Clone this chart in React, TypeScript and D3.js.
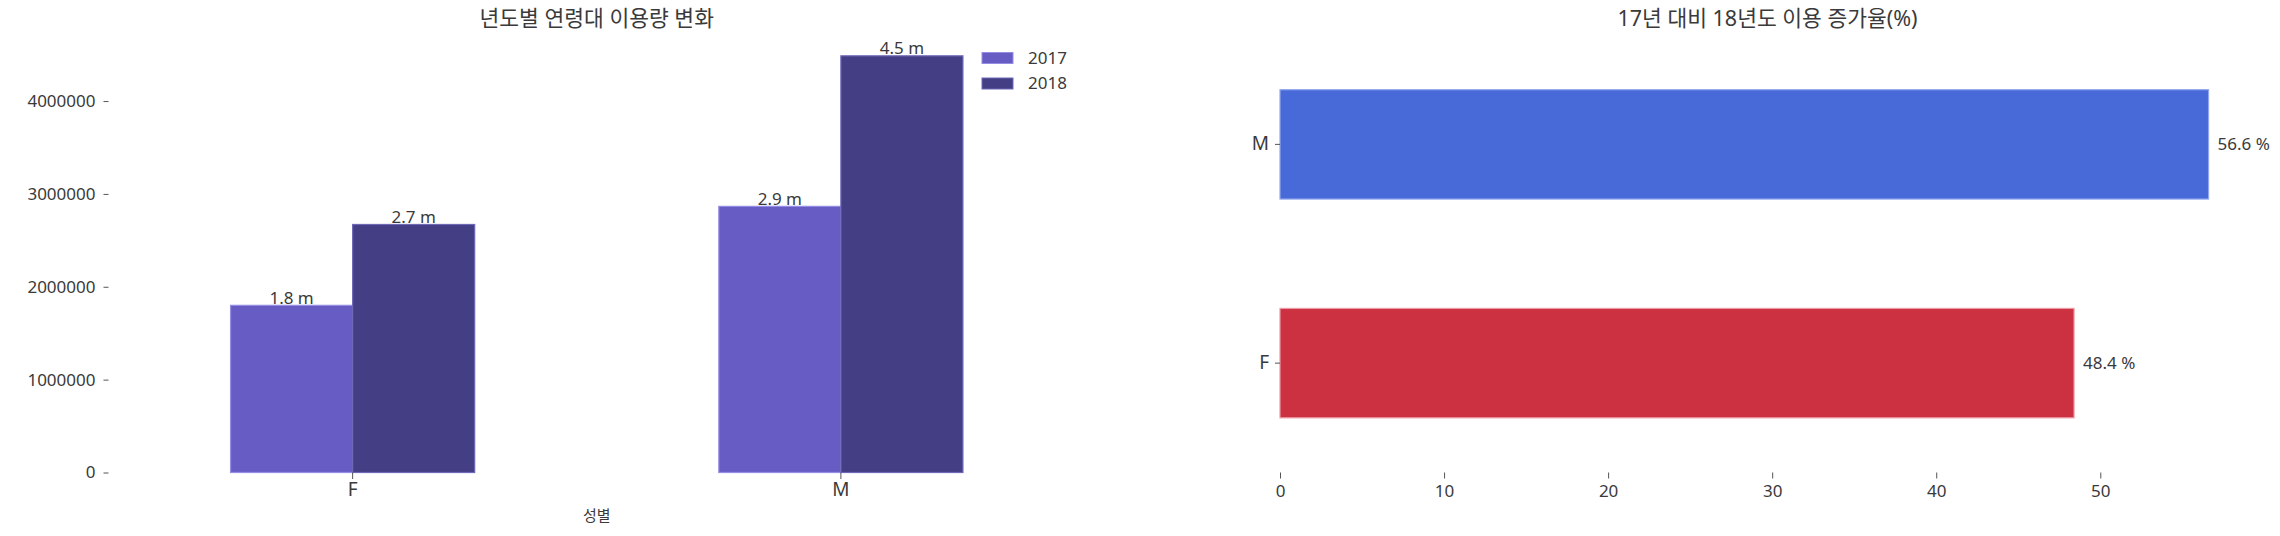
import React, { useEffect, useRef } from 'react';
import * as d3 from 'd3';

// left chart: yearly usage by gender
const genders = ['F', 'M'];
const years = ['2017', '2018'];
const usage2017 = [1800000, 2866000];
const usage2018 = [2671000, 4487000];
const usageTicks = [0, 1000000, 2000000, 3000000, 4000000];

// right chart: growth rate 17 -> 18 (%)
const growthCats = ['M', 'F'];
const growthValues = [56.6, 48.4];
const growthTicks = [0, 10, 20, 30, 40, 50];

const W = 2280;
const H = 536;
const FONT = '"Noto Sans", "Noto Sans CJK KR", sans-serif';
const TEXT = '#3a3a3a';

const yearFill: Record<string, string> = { '2017': '#675cc4', '2018': '#443e84' };
const yearEdge: Record<string, string> = { '2017': '#958ce4', '2018': '#6f68b8' };
const growthFill: Record<string, string> = { M: '#486ad8', F: '#cc3142' };
const growthEdge: Record<string, string> = { M: '#93a8ee', F: '#eb9aa3' };

export default function App() {
  const ref = useRef<SVGSVGElement>(null);

  useEffect(() => {
    const svg = d3.select(ref.current);
    svg.selectAll('*').remove();

    const top = 35;
    const bottom = 472.5;

    // ---------- left chart ----------
    const lx0 = 108.5;
    const lx1 = 1085;
    const rows = genders.map((g, i) => ({ g, '2017': usage2017[i], '2018': usage2018[i] }));
    const maxV = d3.max([...usage2017, ...usage2018]) as number;

    const x0 = d3.scaleBand().domain(genders).range([lx0, lx1]).paddingInner(0.5).paddingOuter(0.25);
    const x1 = d3.scaleBand().domain(years).range([0, x0.bandwidth()]);
    const y = d3.scaleLinear().domain([0, maxV * 1.05]).range([bottom, top]);

    const left = svg.append('g');

    const groups = left.selectAll('.grp')
      .data(rows)
      .enter()
      .append('g')
      .attr('transform', d => `translate(${x0(d.g)},0)`);

    groups.selectAll('rect')
      .data(d => years.map(yr => ({ yr, v: (d as any)[yr] as number })))
      .enter()
      .append('rect')
      .attr('x', d => x1(d.yr)!)
      .attr('y', d => y(d.v))
      .attr('width', x1.bandwidth())
      .attr('height', d => bottom - y(d.v))
      .attr('fill', d => yearFill[d.yr])
      .attr('stroke', d => yearEdge[d.yr])
      .attr('stroke-width', 1.2);

    groups.selectAll('text.lbl')
      .data(d => years.map(yr => ({ yr, v: (d as any)[yr] as number })))
      .enter()
      .append('text')
      .attr('class', 'lbl')
      .attr('x', d => x1(d.yr)! + x1.bandwidth() / 2)
      .attr('y', d => y(d.v) - 1.5)
      .attr('text-anchor', 'middle')
      .attr('font-size', 17)
      .attr('font-family', FONT)
      .attr('fill', TEXT)
      .text(d => `${(d.v / 1e6).toFixed(1)} m`);

    const yAxis = left.append('g')
      .attr('transform', `translate(${lx0},0)`)
      .call(d3.axisLeft(y).tickValues(usageTicks).tickFormat(d3.format('d')).tickSize(5).tickPadding(8));
    yAxis.select('.domain').remove();

    const xAxis = left.append('g')
      .attr('transform', `translate(0,${bottom})`)
      .call(d3.axisBottom(x0).tickSize(6.5).tickPadding(4));
    xAxis.select('.domain').remove();
    xAxis.selectAll('text').attr('font-size', 19);

    [yAxis, xAxis].forEach(a => {
      a.attr('font-family', FONT).selectAll('line').attr('stroke', '#555');
      a.selectAll('text').attr('fill', TEXT);
    });
    yAxis.attr('font-size', 17);

    left.append('text')
      .attr('x', (lx0 + lx1) / 2)
      .attr('y', 26)
      .attr('text-anchor', 'middle')
      .attr('font-size', 21.5)
      .attr('font-family', FONT)
      .attr('fill', TEXT)
      .text('년도별 연령대 이용량 변화');

    left.append('text')
      .attr('x', (lx0 + lx1) / 2)
      .attr('y', 521)
      .attr('text-anchor', 'middle')
      .attr('font-size', 15)
      .attr('font-family', FONT)
      .attr('fill', TEXT)
      .text('성별');

    const legend = left.append('g').attr('transform', 'translate(982,52.5)');
    years.forEach((yr, i) => {
      const row = legend.append('g').attr('transform', `translate(0,${i * 25.5})`);
      row.append('rect')
        .attr('width', 31).attr('height', 11)
        .attr('fill', yearFill[yr])
        .attr('stroke', yearEdge[yr]);
      row.append('text')
        .attr('x', 46).attr('y', 5.5)
        .attr('dy', '0.35em')
        .attr('font-size', 17)
        .attr('font-family', FONT)
        .attr('fill', TEXT)
        .text(yr);
    });

    // ---------- right chart ----------
    const rx0 = 1280;
    const rx1 = 2255;
    const gMax = d3.max(growthValues) as number;
    const xr = d3.scaleLinear().domain([0, gMax * 1.05]).range([rx0, rx1]);
    const yr = d3.scaleBand().domain(growthCats).range([top, bottom]).paddingInner(0.5).paddingOuter(0.25);
    const gData = growthCats.map((c, i) => ({ c, v: growthValues[i] }));

    const right = svg.append('g');

    right.selectAll('rect')
      .data(gData)
      .enter()
      .append('rect')
      .attr('x', xr(0))
      .attr('y', d => yr(d.c)!)
      .attr('width', d => xr(d.v) - xr(0))
      .attr('height', yr.bandwidth())
      .attr('fill', d => growthFill[d.c])
      .attr('stroke', d => growthEdge[d.c])
      .attr('stroke-width', 1.2);

    right.selectAll('text.lbl')
      .data(gData)
      .enter()
      .append('text')
      .attr('class', 'lbl')
      .attr('x', d => xr(d.v) + 9)
      .attr('y', d => yr(d.c)! + yr.bandwidth() / 2)
      .attr('dy', '0.35em')
      .attr('font-size', 17)
      .attr('font-family', FONT)
      .attr('fill', TEXT)
      .text(d => `${d.v} %`);

    const rxAxis = right.append('g')
      .attr('transform', `translate(0,${bottom})`)
      .call(d3.axisBottom(xr).tickValues(growthTicks).tickFormat(d3.format('d')).tickSize(6).tickPadding(6));
    rxAxis.select('.domain').remove();
    rxAxis.attr('font-size', 17);

    const ryAxis = right.append('g')
      .attr('transform', `translate(${rx0},0)`)
      .call(d3.axisLeft(yr).tickSize(5).tickPadding(6));
    ryAxis.select('.domain').remove();
    ryAxis.attr('font-size', 19);

    [rxAxis, ryAxis].forEach(a => {
      a.attr('font-family', FONT).selectAll('line').attr('stroke', '#555');
      a.selectAll('text').attr('fill', TEXT);
    });

    right.append('text')
      .attr('x', (rx0 + rx1) / 2)
      .attr('y', 26)
      .attr('text-anchor', 'middle')
      .attr('font-size', 21.5)
      .attr('font-family', FONT)
      .attr('fill', TEXT)
      .text('17년 대비 18년도 이용 증가율(%)');
  }, []);

  return (
    <svg
      ref={ref}
      width={W}
      height={H}
      style={{ position: 'absolute', left: 0, top: 0, background: '#fff' }}
    />
  );
}
